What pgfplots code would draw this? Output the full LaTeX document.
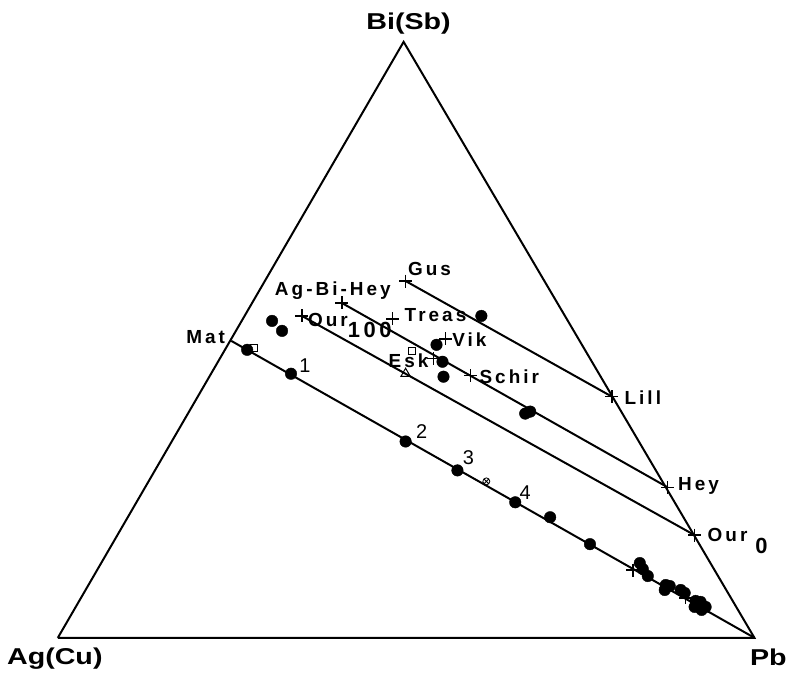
\documentclass[border=0pt]{standalone}
\usepackage{fontspec}
\setmainfont{Liberation Sans}
\newfontfamily\vfont[FakeStretch=1.25]{Liberation Sans}
\newfontfamily\lfont[LetterSpace=16]{Liberation Sans}
\usepackage{pgfplots}
\pgfplotsset{compat=1.18}
\begin{document}
\begin{tikzpicture}
\begin{axis}[x=1pt,y=1pt,xmin=0,xmax=790,ymin=0,ymax=672,y dir=reverse,
  hide axis,clip=false,scale only axis]
\path (axis cs:0,0) rectangle (axis cs:790,672);
% triangle
\addplot[black,line width=2pt] coordinates {(58,640) (757,640) (405,42) (58,640)};
% tie lines
\addplot[black,line width=2pt] coordinates {(232,342) (757,640)};
\addplot[black,line width=2pt] coordinates {(303,317) (697,537)};
\addplot[black,line width=2pt] coordinates {(343,304) (670,489)};
\addplot[black,line width=2pt] coordinates {(407,282) (614,398)};
% plus markers
\addplot[only marks,mark=+,mark size=6.5pt,line width=1.4pt] coordinates {
(407,282) (343,304) (303,317) (394,320) (447,340) (435,360) (472,377)
(614,398) (670,489) (697,537) (635,572) (688,600)};
% dots
\addplot[only marks,mark=*,mark size=5.8pt,black] coordinates {
(273,322) (283,332) (248,351) (292,375) (483,317) (438,346) (444,363) (445,378)
(527,415) (532,413) (407,443) (459,472) (517,504) (552,519) (592,546)
(642,565) (645,571) (650,578) (668,587) (672,588) (667,592) (683,592) (687,595)
(698,603) (703,604) (705,608) (697,609) (704,612) (708,609) (700,606)};
% squares
\addplot[only marks,mark=square,mark size=3.5pt,line width=1pt,black,fill=white] coordinates {(255,349) (413,352)};
% triangle
\addplot[only marks,mark=triangle,mark size=5.5pt,line width=1pt,black] coordinates {(407,375)};
% circled cross
\addplot[only marks,mark=otimes,mark size=3.5pt,line width=0.8pt,black] coordinates {(488,483)};
% vertex labels
\node[font=\vfont\bfseries\fontsize{23}{25}\selectfont] at (axis cs:410,24) {Bi(Sb)};
\node[font=\vfont\bfseries\fontsize{23}{25}\selectfont] at (axis cs:55,661) {Ag(Cu)};
\node[font=\vfont\bfseries\fontsize{23}{25}\selectfont] at (axis cs:771,660) {Pb};
% inner labels
\begin{scope}[every node/.style={font=\lfont\bfseries\fontsize{19}{21}\selectfont,inner sep=0pt}]
\node[anchor=east] at (axis cs:226,338) {Mat};
\node at (axis cs:431,270) {Gus};
\node at (axis cs:334,292) {Ag-Bi-Hey};
\node at (axis cs:329,321) {Our};
\node[font=\lfont\bfseries\fontsize{22}{24}\selectfont] at (axis cs:371,331) {100};
\node at (axis cs:437,316) {Treas};
\node at (axis cs:471,341) {Vik};
\node at (axis cs:410,362) {Esk};
\node[anchor=west] at (axis cs:481,378) {Schir};
\node at (axis cs:645,399) {Lill};
\node at (axis cs:701,488) {Hey};
\node at (axis cs:730,537) {Our};
\node[font=\lfont\bfseries\fontsize{22}{24}\selectfont] at (axis cs:764,548) {0};
\end{scope}
\begin{scope}[every node/.style={font=\fontsize{20}{22}\selectfont,inner sep=0pt}]
\node at (axis cs:306,367) {1};
\node at (axis cs:423,433) {2};
\node at (axis cs:470,459) {3};
\node at (axis cs:527,494) {4};
\end{scope}
\end{axis}
\end{tikzpicture}
\end{document}
